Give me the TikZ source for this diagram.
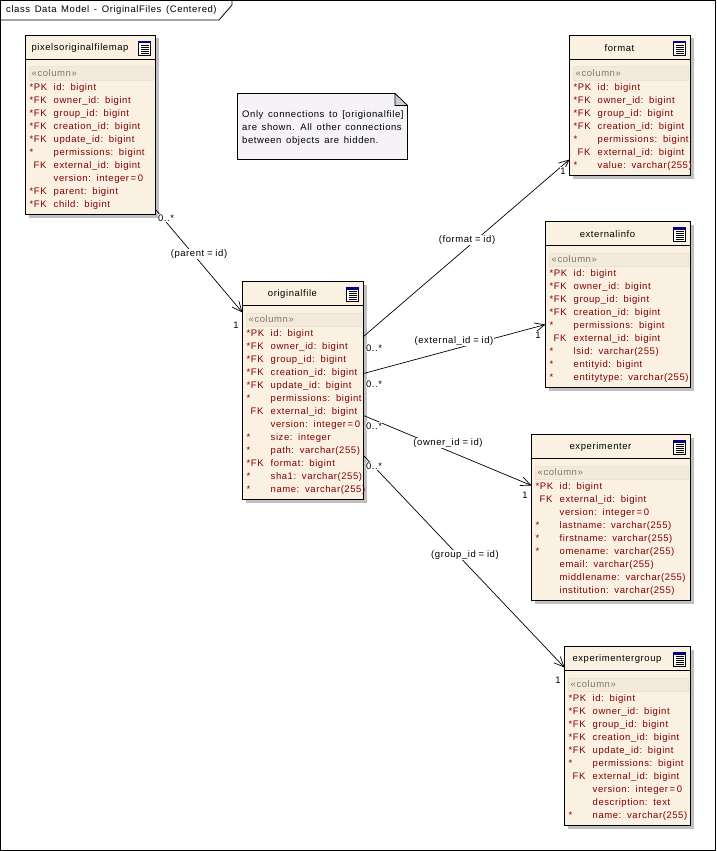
\documentclass[tikz,border=0pt]{standalone}
\usepackage{fontspec}
\usetikzlibrary{arrows.meta}
\setmainfont[LetterSpace=6,WordSpace=1.45]{Liberation Sans}
\definecolor{boxfill}{HTML}{FBF1E3}
\definecolor{bandfill}{HTML}{F3EADC}
\definecolor{bandline}{HTML}{EBE3D5}
\definecolor{bandtext}{HTML}{7F7766}
\definecolor{rowtext}{HTML}{800000}
\definecolor{notefill}{HTML}{F6F3F8}
\definecolor{shadowgrey}{HTML}{C0C0C0}
\definecolor{iconblue}{HTML}{000080}
\tikzset{
  uifont/.style={font=\fontsize{9.5}{13}\selectfont},
  tablebox/.style={draw=black,line width=1pt,fill=boxfill,inner sep=0pt,outer sep=0pt,anchor=north west},
  tabletitle/.style={uifont,text=black,inner sep=0pt,anchor=center},
  bandbox/.style={draw=bandline,fill=bandfill,inner sep=0pt,anchor=north west},
  bandlabel/.style={uifont,text=bandtext,inner sep=0pt,anchor=west},
  rowsblock/.style={uifont,text=rowtext,inner sep=0pt,anchor=north west},
  conn/.style={draw=black,line width=.7pt},
  arrowconn/.style={conn,-{Straight Barb[length=10pt,width=9pt,line width=.7pt]}},
  lbl/.style={uifont,text=black,fill=white,inner sep=1pt},
  mult/.style={uifont,text=black,inner sep=.5pt,fill=white},
}
\newcommand{\prefixgap}{\hspace*{4pt}}
\newcommand{\eqs}{\hspace{1.6pt}=\hspace{1.6pt}}
\newcommand{\eql}{\hspace{2.8pt}=\hspace{2.8pt}}
\newcommand{\dbtable}[8]{% name, x1,y1,x2,y2, header y offset, title, rows
  \pgfmathsetlengthmacro{\dbw}{#4-#2}
  \pgfmathsetlengthmacro{\dbh}{#5-#3}
  \fill[shadowgrey] (#2+3,#3+3) rectangle (#4+3,#5+3);
  \node[tablebox,minimum width=\dbw,minimum height=\dbh] (#1) at (#2,#3) {};
  \draw[line width=.8pt] (#2,#3+#6) -- (#4,#3+#6);
  \pgfmathsetmacro{\dbtx}{(#2+#4-21)/2}
  \node[tabletitle] (#1title) at (\dbtx,#3+12.5) {#7};
  % icon
  \fill[white] (#4-17,#3+6) rectangle (#4-5,#3+20);
  \draw[black,line width=.7pt] (#4-17,#3+6) rectangle (#4-5,#3+20);
  \fill[iconblue] (#4-17.3,#3+5.7) rectangle (#4-4.7,#3+8);
  \foreach \iy in {10,12,14,16,18}{\draw[black,line width=.6pt] (#4-15,#3+\iy) -- (#4-7,#3+\iy);}
  % band
  \pgfmathsetlengthmacro{\dbbw}{#4-#2-6}
  \node[bandbox,minimum width=\dbbw,minimum height=13pt] (#1band) at (#2+3,#3+31) {};
  \node[bandlabel] (#1col) at (#2+6,#3+37.5) {«column»};
  \node[rowsblock] (#1rows) at (#2+4,#3+45.7) {%
    \renewcommand{\arraystretch}{1}\setlength{\tabcolsep}{0pt}%
    \begin{tabular}{@{}p{24pt}@{}l@{}}#8\end{tabular}};
}
\begin{document}
\begin{tikzpicture}[x=1pt,y=-1pt]
\useasboundingbox (0,0) rectangle (716,851);
\fill[white] (0,0) rectangle (716,851);
\draw[black,line width=.8pt] (.5,.5) rectangle (715.5,850.5);
\draw[black,line width=.8pt] (.5,20) -- (219,20) -- (232,5) -- (232,.5);
\node[uifont,anchor=west,inner sep=0pt] (frametitle) at (6,10.5) {class Data Model - OriginalFiles (Centered)};

% note
\draw[black,line width=.8pt,fill=notefill] (237.5,93.5) -- (395,93.5) -- (407.5,105.5) -- (407.5,159.5) -- (237.5,159.5) -- cycle;
\draw[black,line width=.6pt,fill=shadowgrey!80] (395,93.5) -- (407.5,105.5) -- (395,105.5) -- cycle;
\node[uifont,anchor=north west,inner sep=0pt,align=left] (note) at (242,110.5) {Only connections to [origionalfile]\\are shown. All other connections\\between objects are hidden.};

\dbtable{pixmap}{25.5}{35.5}{155.5}{214.5}{24}{pixelsoriginalfilemap}{%
{*}PK & id: bigint\\ {*}FK & owner\_id: bigint\\ {*}FK & group\_id: bigint\\ {*}FK & creation\_id: bigint\\ {*}FK & update\_id: bigint\\ {*} & permissions: bigint\\ \prefixgap FK & external\_id: bigint\\ & version: integer\eqs 0\\ {*}FK & parent: bigint\\ {*}FK & child: bigint}

\dbtable{orig}{242.5}{281.5}{363.5}{499.5}{24}{originalfile}{%
{*}PK & id: bigint\\ {*}FK & owner\_id: bigint\\ {*}FK & group\_id: bigint\\ {*}FK & creation\_id: bigint\\ {*}FK & update\_id: bigint\\ {*} & permissions: bigint\\ \prefixgap FK & external\_id: bigint\\ & version: integer\eqs 0\\ {*} & size: integer\\ {*} & path: varchar(255)\\ {*}FK & format: bigint\\ {*} & sha1: varchar(255)\\ {*} & name: varchar(255)}

\dbtable{format}{569.5}{35.5}{690.5}{175.5}{24}{format}{%
{*}PK & id: bigint\\ {*}FK & owner\_id: bigint\\ {*}FK & group\_id: bigint\\ {*}FK & creation\_id: bigint\\ {*} & permissions: bigint\\ \prefixgap FK & external\_id: bigint\\ {*} & value: varchar(255)}

\dbtable{extinfo}{545.5}{221.5}{690.5}{387.5}{24}{externalinfo}{%
{*}PK & id: bigint\\ {*}FK & owner\_id: bigint\\ {*}FK & group\_id: bigint\\ {*}FK & creation\_id: bigint\\ {*} & permissions: bigint\\ \prefixgap FK & external\_id: bigint\\ {*} & lsid: varchar(255)\\ {*} & entityid: bigint\\ {*} & entitytype: varchar(255)}

\dbtable{exper}{531.5}{434.5}{690.5}{600.5}{24}{experimenter}{%
{*}PK & id: bigint\\ \prefixgap FK & external\_id: bigint\\ & version: integer\eqs 0\\ {*} & lastname: varchar(255)\\ {*} & firstname: varchar(255)\\ {*} & omename: varchar(255)\\ & email: varchar(255)\\ & middlename: varchar(255)\\ & institution: varchar(255)}

\dbtable{expgroup}{564.5}{646.5}{690.5}{825.5}{24}{experimentergroup}{%
{*}PK & id: bigint\\ {*}FK & owner\_id: bigint\\ {*}FK & group\_id: bigint\\ {*}FK & creation\_id: bigint\\ {*}FK & update\_id: bigint\\ {*} & permissions: bigint\\ \prefixgap FK & external\_id: bigint\\ & version: integer\eqs 0\\ & description: text\\ {*} & name: varchar(255)}

% connectors
\draw[arrowconn] ([yshift=-174pt]pixmap.north east) -- ([yshift=-31pt]orig.north west);
\draw[arrowconn] ([yshift=-55pt]orig.north east) -- ([yshift=-124pt]format.north west);
\draw[arrowconn] ([yshift=-92pt]orig.north east) -- ([yshift=-103pt]extinfo.north west);
\draw[arrowconn] ([yshift=-134pt]orig.north east) -- ([yshift=-51pt]exper.north west);
\draw[arrowconn] ([yshift=-174pt]orig.north east) -- ([yshift=-21pt]expgroup.north west);

% connector labels
\node[lbl] (lparent) at (199,254) {(parent\eql id)};
\node[lbl] (lformat) at (467,240) {(format\eql id)};
\node[lbl] (lext) at (454,341) {(external\_id\eql id)};
\node[lbl] (lowner) at (448,443) {(owner\_id\eql id)};
\node[lbl] (lgroup) at (465,555) {(group\_id\eql id)};

\node[mult] (m1) at (166,218) {0..*};
\node[mult] (m2) at (236,325) {1};
\node[mult] (m3) at (374,348) {0..*};
\node[mult] (m4) at (563,171) {1};
\node[mult] (m5) at (374,384) {0..*};
\node[mult] (m6) at (538,335) {1};
\node[mult] (m7) at (374,426) {0..*};
\node[mult] (m8) at (525,495) {1};
\node[mult] (m9) at (374,466) {0..*};
\node[mult] (m10) at (558,680) {1};
\end{tikzpicture}
\end{document}
